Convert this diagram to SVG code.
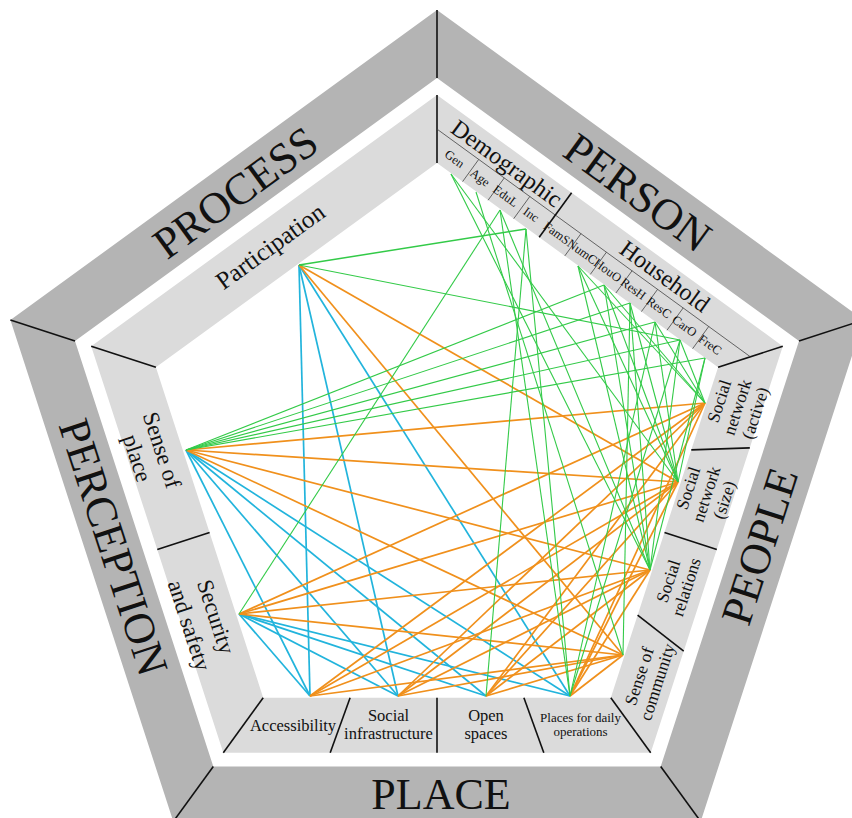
<svg xmlns="http://www.w3.org/2000/svg" width="852" height="818" viewBox="0 0 852 818">
  <style>
    .band-out { fill: #b4b4b4; fill-rule: evenodd; }
    .band-in { fill: #dbdbdb; fill-rule: evenodd; }
    .div { stroke: #111; stroke-width: 1.6; fill: none; }
    .sub { stroke: #444; stroke-width: 0.8; fill: none; }
    text { font-family: "Liberation Serif", "Times New Roman", serif; fill: #111; text-anchor: middle; }
    .big { font-size: 44px; }
    .grp { font-size: 24px; }
    .lbl { font-size: 23px; }
    .lblr { font-size: 17.5px; }
    .lblb { font-size: 16.5px; }
    .item { font-size: 12.5px; }
    .g { stroke: #33ca48; stroke-width: 1.1; }
    .o { stroke: #f0901c; stroke-width: 1.7; }
    .b { stroke: #22b4dc; stroke-width: 1.7; }
  </style>

  <!-- pentagon rings -->
  <g id="frame">
    <path class="band-out" d="M437,10 L863.6,320 L700.7,821.5 L173.3,821.5 L10.4,320 Z M437,78 L799,341 L660.7,766.5 L213.3,766.5 L75,341 Z"/>
    <path class="band-in" d="M437,95 L782.8,346.2 L650.7,752.8 L223.3,752.8 L91.2,346.2 Z M437,163 L718.1,367.3 L610.8,697.7 L263.2,697.7 L155.9,367.3 Z"/>
    <!-- corner dividers, outer ring -->
    <line class="div" x1="437" y1="10" x2="437" y2="78"/>
    <line class="div" x1="863.6" y1="320" x2="799" y2="341"/>
    <line class="div" x1="700.7" y1="821.5" x2="660.7" y2="766.5"/>
    <line class="div" x1="173.3" y1="821.5" x2="213.3" y2="766.5"/>
    <line class="div" x1="10.4" y1="320" x2="75" y2="341"/>
    <!-- corner dividers, inner ring -->
    <line class="div" x1="437" y1="95" x2="437" y2="163"/>
    <line class="div" x1="782.8" y1="346.2" x2="718.1" y2="367.3"/>
    <line class="div" x1="650.7" y1="752.8" x2="610.8" y2="697.7"/>
    <line class="div" x1="223.3" y1="752.8" x2="263.2" y2="697.7"/>
    <line class="div" x1="91.2" y1="346.2" x2="155.9" y2="367.3"/>
    <!-- PLACE cells -->
    <line class="div" x1="350.1" y1="697.7" x2="330.2" y2="752.8"/>
    <line class="div" x1="437" y1="697.7" x2="437" y2="752.8"/>
    <line class="div" x1="523.9" y1="697.7" x2="543.8" y2="752.8"/>
    <!-- PERCEPTION cells -->
    <line class="div" x1="209.6" y1="532.5" x2="157.3" y2="549.5"/>
    <!-- PEOPLE cells -->
    <line class="div" x1="691.3" y1="449.9" x2="749.8" y2="447.9"/>
    <line class="div" x1="664.5" y1="532.5" x2="716.8" y2="549.5"/>
    <line class="div" x1="637.6" y1="615.1" x2="683.7" y2="651.2"/>
    <!-- PERSON cells -->
    <line class="sub" x1="437" y1="129.1" x2="750.4" y2="356.8"/>
    <line class="div" x1="539.2" y1="237.3" x2="571.6" y2="192.7"/>
    <line class="sub" x1="462.6" y1="181.6" x2="478.8" y2="159.3"/>
    <line class="sub" x1="488.1" y1="200.2" x2="504.3" y2="177.9"/>
    <line class="sub" x1="513.7" y1="218.7" x2="529.9" y2="196.4"/>
    <line class="sub" x1="564.8" y1="255.9" x2="581" y2="233.6"/>
    <line class="sub" x1="590.3" y1="274.4" x2="606.5" y2="252.1"/>
    <line class="sub" x1="615.9" y1="293" x2="632.1" y2="270.7"/>
    <line class="sub" x1="641.4" y1="311.6" x2="657.6" y2="289.3"/>
    <line class="sub" x1="667" y1="330.2" x2="683.2" y2="307.9"/>
    <line class="sub" x1="692.6" y1="348.7" x2="708.8" y2="326.4"/>
  </g>

  <!-- links between the factors -->
  <g id="connectors">
    <!-- process / perception to place -->
    <line class="b" x1="299" y1="265" x2="310" y2="696"/>
    <line class="b" x1="299" y1="265" x2="398" y2="696"/>
    <line class="b" x1="299" y1="265" x2="570" y2="696"/>
    <line class="b" x1="186" y1="450" x2="310" y2="696"/>
    <line class="b" x1="186" y1="450" x2="398" y2="696"/>
    <line class="b" x1="186" y1="450" x2="486" y2="696"/>
    <line class="b" x1="186" y1="450" x2="570" y2="696"/>
    <line class="b" x1="239" y1="614" x2="310" y2="696"/>
    <line class="b" x1="239" y1="614" x2="398" y2="696"/>
    <line class="b" x1="239" y1="614" x2="486" y2="696"/>
    <line class="b" x1="239" y1="614" x2="570" y2="696"/>
    <!-- links to people -->
    <line class="o" x1="299" y1="265" x2="678" y2="482"/>
    <line class="o" x1="299" y1="265" x2="623" y2="655"/>
    <line class="o" x1="186" y1="450" x2="705" y2="403"/>
    <line class="o" x1="186" y1="450" x2="678" y2="482"/>
    <line class="o" x1="186" y1="450" x2="650" y2="570"/>
    <line class="o" x1="186" y1="450" x2="623" y2="655"/>
    <line class="o" x1="239" y1="614" x2="705" y2="403"/>
    <line class="o" x1="239" y1="614" x2="678" y2="482"/>
    <line class="o" x1="239" y1="614" x2="650" y2="570"/>
    <line class="o" x1="239" y1="614" x2="623" y2="655"/>
    <line class="o" x1="310" y1="696" x2="705" y2="403"/>
    <line class="o" x1="310" y1="696" x2="678" y2="482"/>
    <line class="o" x1="310" y1="696" x2="650" y2="570"/>
    <line class="o" x1="310" y1="696" x2="623" y2="655"/>
    <line class="o" x1="398" y1="696" x2="705" y2="403"/>
    <line class="o" x1="398" y1="696" x2="678" y2="482"/>
    <line class="o" x1="398" y1="696" x2="650" y2="570"/>
    <line class="o" x1="398" y1="696" x2="623" y2="655"/>
    <line class="o" x1="486" y1="696" x2="705" y2="403"/>
    <line class="o" x1="486" y1="696" x2="678" y2="482"/>
    <line class="o" x1="486" y1="696" x2="650" y2="570"/>
    <line class="o" x1="486" y1="696" x2="623" y2="655"/>
    <line class="o" x1="570" y1="696" x2="705" y2="403"/>
    <line class="o" x1="570" y1="696" x2="678" y2="482"/>
    <line class="o" x1="570" y1="696" x2="650" y2="570"/>
    <line class="o" x1="570" y1="696" x2="623" y2="655"/>
    <!-- links to person -->
    <line class="g" x1="526" y1="229" x2="299" y2="265" style="stroke-width:1.5"/>
    <line class="g" x1="680" y1="340" x2="299" y2="265"/>
    <line class="g" x1="604" y1="285" x2="186" y2="450"/>
    <line class="g" x1="630" y1="303" x2="186" y2="450"/>
    <line class="g" x1="655" y1="322" x2="186" y2="450"/>
    <line class="g" x1="680" y1="340" x2="186" y2="450"/>
    <line class="g" x1="705" y1="358" x2="186" y2="450"/>
    <line class="g" x1="500" y1="210" x2="239" y2="614"/>
    <line class="g" x1="451" y1="174" x2="678" y2="482"/>
    <line class="g" x1="451" y1="174" x2="650" y2="570"/>
    <line class="g" x1="476" y1="192" x2="623" y2="655"/>
    <line class="g" x1="500" y1="210" x2="650" y2="570"/>
    <line class="g" x1="500" y1="210" x2="570" y2="696"/>
    <line class="g" x1="526" y1="229" x2="570" y2="696"/>
    <line class="g" x1="526" y1="229" x2="486" y2="696"/>
    <line class="g" x1="578" y1="266" x2="705" y2="403"/>
    <line class="g" x1="578" y1="266" x2="678" y2="482"/>
    <line class="g" x1="578" y1="266" x2="650" y2="570"/>
    <line class="g" x1="604" y1="285" x2="705" y2="403"/>
    <line class="g" x1="604" y1="285" x2="678" y2="482"/>
    <line class="g" x1="604" y1="285" x2="650" y2="570"/>
    <line class="g" x1="630" y1="303" x2="678" y2="482"/>
    <line class="g" x1="630" y1="303" x2="650" y2="570"/>
    <line class="g" x1="630" y1="303" x2="623" y2="655"/>
    <line class="g" x1="655" y1="322" x2="705" y2="403"/>
    <line class="g" x1="655" y1="322" x2="678" y2="482"/>
    <line class="g" x1="655" y1="322" x2="570" y2="696"/>
    <line class="g" x1="680" y1="340" x2="705" y2="403"/>
    <line class="g" x1="680" y1="340" x2="650" y2="570"/>
    <line class="g" x1="680" y1="340" x2="570" y2="696"/>
    <line class="g" x1="705" y1="358" x2="678" y2="482"/>
    <line class="g" x1="705" y1="358" x2="650" y2="570"/>
  </g>

  <!-- dimension titles -->
  <g id="process"><text class="big" transform="translate(235,192) rotate(-36)" dy="0.35em">PROCESS</text></g>
  <g id="person"><text class="big" transform="translate(638,192) rotate(36)" dy="0.35em">PERSON</text></g>
  <g id="people"><text class="big" transform="translate(759,546) rotate(-72)" dy="0.35em">PEOPLE</text></g>
  <g id="place"><text class="big" transform="translate(441,794)" dy="0.35em">PLACE</text></g>
  <g id="perception"><text class="big" transform="translate(114,547) rotate(72)" dy="0.35em">PERCEPTION</text></g>

  <!-- process -->
  <g id="participation"><text transform="translate(270,246) rotate(-36)" dy="0.35em" style="font-size:25px">Participation</text></g>

  <!-- perception -->
  <g id="sense-of-place"><text class="lbl" transform="translate(150,454) rotate(72)"><tspan x="0" y="-5">Sense of</tspan><tspan x="0" y="21">place</tspan></text></g>
  <g id="security"><text class="lbl" transform="translate(203,621) rotate(72)"><tspan x="0" y="-6">Security</tspan><tspan x="0" y="22">and safety</tspan></text></g>

  <!-- place -->
  <g id="accessibility"><text class="lblb" x="293" y="731">Accessibility</text></g>
  <g id="social-infrastructure"><text class="lblb"><tspan x="388.5" y="720.5">Social</tspan><tspan x="388.5" y="739">infrastructure</tspan></text></g>
  <g id="open-spaces"><text class="lblb"><tspan x="486" y="720.5">Open</tspan><tspan x="486" y="738.5">spaces</tspan></text></g>
  <g id="daily-places"><text style="font-size:13px"><tspan x="580.5" y="722">Places for daily</tspan><tspan x="580.5" y="736">operations</tspan></text></g>

  <!-- people -->
  <g id="network-active"><text class="lblr" transform="translate(737,407) rotate(-72)"><tspan x="0" y="-12.9">Social</tspan><tspan x="0" y="6.1">network</tspan><tspan x="0" y="25.1">(active)</tspan></text></g>
  <g id="network-size"><text class="lblr" transform="translate(706,494) rotate(-72)"><tspan x="0" y="-12.9">Social</tspan><tspan x="0" y="6.1">network</tspan><tspan x="0" y="25.1">(size)</tspan></text></g>
  <g id="social-relations"><text class="lblr" transform="translate(677,584) rotate(-72)"><tspan x="0" y="-3.4">Social</tspan><tspan x="0" y="15.6">relations</tspan></text></g>
  <g id="sense-of-community"><text class="lblr" transform="translate(648,679) rotate(-72)"><tspan x="0" y="-3.4">Sense of</tspan><tspan x="0" y="15.6">community</tspan></text></g>

  <!-- person -->
  <g id="demographic">
    <text class="grp" transform="translate(507,163) rotate(36)" dy="0.35em">Demographic</text>
    <text class="item" transform="translate(454.7,158.7) rotate(36)" dy="0.35em">Gen</text>
    <text class="item" transform="translate(480.2,177.3) rotate(36)" dy="0.35em">Age</text>
    <text class="item" transform="translate(505.8,195.9) rotate(36)" dy="0.35em">EduL</text>
    <text class="item" transform="translate(531.3,214.4) rotate(36)" dy="0.35em">Inc</text>
  </g>
  <g id="household">
    <text class="grp" transform="translate(665,276) rotate(36)" dy="0.35em">Household</text>
    <text class="item" transform="translate(556.9,233) rotate(36)" dy="0.35em">FamS</text>
    <text class="item" transform="translate(582.4,251.6) rotate(36)" dy="0.35em">NumC</text>
    <text class="item" transform="translate(608,270.2) rotate(36)" dy="0.35em">HouO</text>
    <text class="item" transform="translate(633.5,288.7) rotate(36)" dy="0.35em">ResH</text>
    <text class="item" transform="translate(659.1,307.3) rotate(36)" dy="0.35em">ResC</text>
    <text class="item" transform="translate(684.7,325.9) rotate(36)" dy="0.35em">CarO</text>
    <text class="item" transform="translate(710.2,344.5) rotate(36)" dy="0.35em">FreC</text>
  </g>
</svg>
